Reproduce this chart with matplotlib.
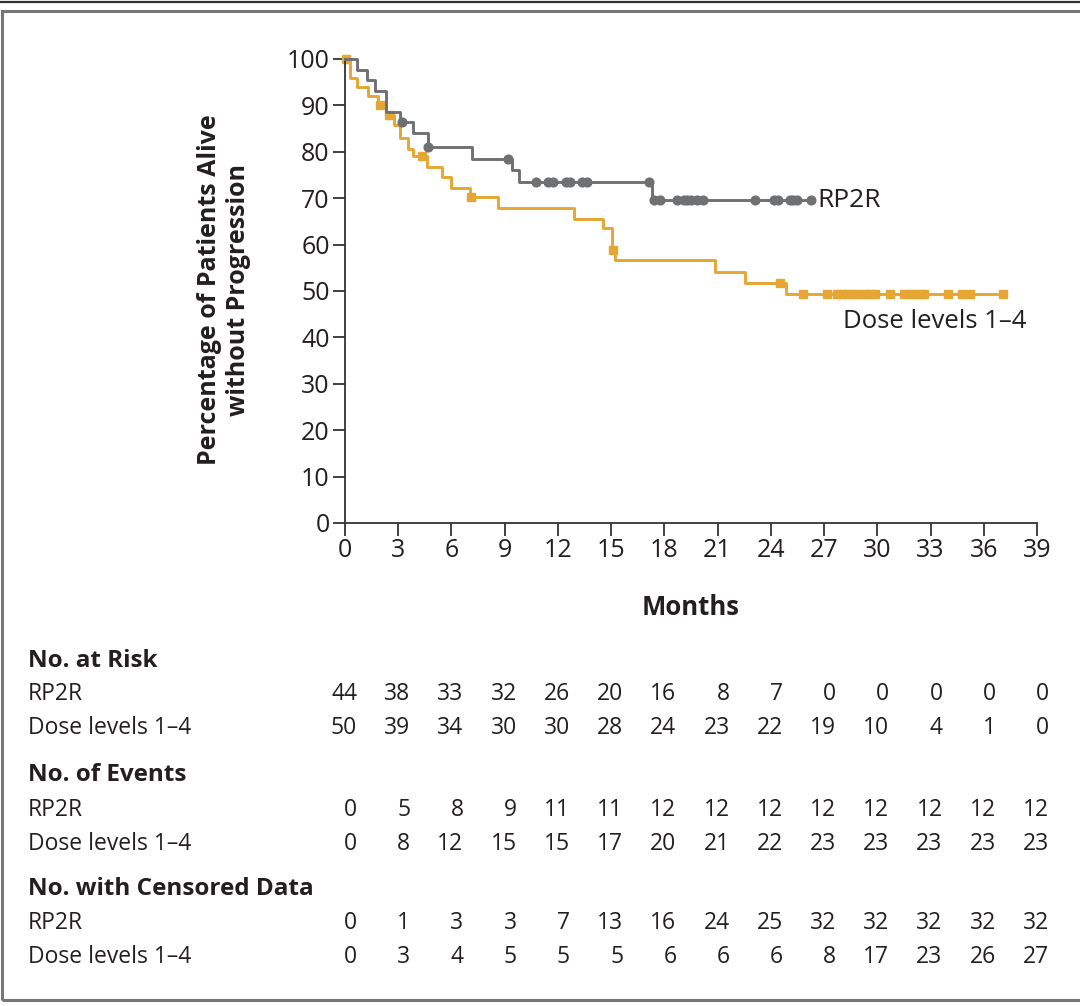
import matplotlib
matplotlib.use("Agg")
import matplotlib.pyplot as plt
from matplotlib.patches import Rectangle
from matplotlib.lines import Line2D
import matplotlib.transforms as mtransforms

plt.rcParams['font.family'] = ['Open Sans', 'DejaVu Sans']

# step curves (months, % alive without progression)
rp2r_t = [0, 0.66, 1.22, 1.69, 2.29, 3.1, 3.85, 4.7, 7.18, 9.4, 9.8, 17.3, 26.25]
rp2r_s = [100, 97.7, 95.45, 93.2, 88.6, 86.4, 84.1, 81.1, 78.4, 76.0, 73.5, 69.6, 69.6]
rp2r_cens = [3.2, 4.7, 9.17, 10.75, 11.42, 11.7, 12.44, 12.68, 13.38, 13.66,
             17.14, 17.42, 17.76, 18.7, 19.1, 19.3, 19.5, 19.85, 20.2,
             23.1, 24.2, 24.4, 25.1, 25.25, 25.5, 26.25]

dose_t = [0, 0.28, 0.66, 1.31, 1.88, 2.3, 2.75, 3.1, 3.57, 3.85, 4.6, 5.45, 6.0, 7.05,
          8.64, 12.93, 14.56, 15.03, 15.2, 20.86, 22.55, 24.86, 37.1]
dose_s = [100, 96, 94, 92, 90, 88, 85.8, 83, 80.7, 79, 76.8, 74.5, 72.3, 70.2,
          67.8, 65.6, 63.5, 58.8, 56.7, 54.2, 51.8, 49.4, 49.4]
dose_cens = [0.05, 1.97, 2.5, 4.32, 7.1, 15.13, 24.5, 25.83,
             27.15, 27.75, 28.0, 28.3, 28.6, 28.85, 29.3, 29.6, 29.85,
             30.7, 31.5, 31.8, 32.1, 32.4, 32.65, 34.0, 34.75, 35.2, 37.1]

months = list(range(0, 40, 3))
risk_rp2r = [44, 38, 33, 32, 26, 20, 16, 8, 7, 0, 0, 0, 0, 0]
risk_dose = [50, 39, 34, 30, 30, 28, 24, 23, 22, 19, 10, 4, 1, 0]
events_rp2r = [0, 5, 8, 9, 11, 11, 12, 12, 12, 12, 12, 12, 12, 12]
events_dose = [0, 8, 12, 15, 15, 17, 20, 21, 22, 23, 23, 23, 23, 23]
cens_rp2r = [0, 1, 3, 3, 7, 13, 16, 24, 25, 32, 32, 32, 32, 32]
cens_dose = [0, 3, 4, 5, 5, 5, 6, 6, 6, 8, 17, 23, 26, 27]

GRAY = '#6f7072'
GOLD = '#e5a733'
INK = '#231f20'


def level_at(ts, ss, x):
    v = ss[0]
    for t, s in zip(ts, ss):
        if t <= x:
            v = s
    return v


W, H = 1080, 1006
fig = plt.figure(figsize=(W / 100, H / 100), dpi=100)

# frame
fig.add_artist(Line2D([0, 1], [1 - 1.5 / H, 1 - 1.5 / H], color='#333333', lw=1.6))
fig.add_artist(Rectangle((2 / W, 6 / H), 1.05, 1 - 17 / H, fill=False,
                         ec='#777777', lw=2.2, transform=fig.transFigure))

ax = fig.add_axes([345 / W, 1 - 523 / H, (1037 - 345) / W, (523 - 59) / H])
ax.set_xlim(0, 39)
ax.set_ylim(0, 100)

ax.step(rp2r_t, rp2r_s, where='post', color=GRAY, lw=2.1, clip_on=False, zorder=3)
ax.plot(rp2r_cens, [level_at(rp2r_t, rp2r_s, c) for c in rp2r_cens], 'o',
        color=GRAY, ms=6.3, clip_on=False, zorder=4)
ax.step(dose_t, dose_s, where='post', color=GOLD, lw=2.1, clip_on=False, zorder=2)
ax.plot(dose_cens, [level_at(dose_t, dose_s, c) for c in dose_cens], 's',
        color=GOLD, ms=6.3, clip_on=False, zorder=2)

ax.text(26.6, 69.6, 'RP2R', fontsize=19, color=INK, va='center', ha='left')
ax.text(28.05, 43.5, 'Dose levels 1\u20134', fontsize=18.5, color=INK, va='center', ha='left')

for s in ['top', 'right']:
    ax.spines[s].set_visible(False)
for s in ['left', 'bottom']:
    ax.spines[s].set_color('#333333')
    ax.spines[s].set_linewidth(1.3)
ax.set_xticks(months)
ax.set_yticks(range(0, 101, 10))
ax.tick_params(direction='out', length=9, width=1.3, color='#333333',
               labelsize=18, labelcolor=INK, pad=2)
ax.set_xlabel('Months', fontsize=18.5, fontweight='bold', color=INK, labelpad=22)

fig.text(224 / W, 1 - 290 / H, 'Percentage of Patients Alive\nwithout Progression',
         rotation=90, ha='center', va='center', fontsize=18, fontweight='bold',
         color=INK, linespacing=1.25)

# risk table
tr = mtransforms.blended_transform_factory(ax.transData, fig.transFigure)
sections = [
    ('No. at Risk', 661, [('RP2R', 694, risk_rp2r), ('Dose levels 1\u20134', 728, risk_dose)]),
    ('No. of Events', 775, [('RP2R', 810, events_rp2r), ('Dose levels 1\u20134', 844, events_dose)]),
    ('No. with Censored Data', 889, [('RP2R', 923, cens_rp2r), ('Dose levels 1\u20134', 957, cens_dose)]),
]
for head, hy, rows in sections:
    fig.text(28 / W, 1 - hy / H, head, fontsize=17.5, fontweight='bold',
             color=INK, va='center', ha='left')
    for name, ry, vals in rows:
        fig.text(28 / W, 1 - ry / H, name, fontsize=16.5, color=INK,
                 va='center', ha='left')
        for m, v in zip(months, vals):
            ax.text(m + 0.68, 1 - ry / H, str(v), transform=tr, fontsize=16.5,
                    color=INK, va='center', ha='right', clip_on=False)

fig.savefig('out.png', dpi=100)
